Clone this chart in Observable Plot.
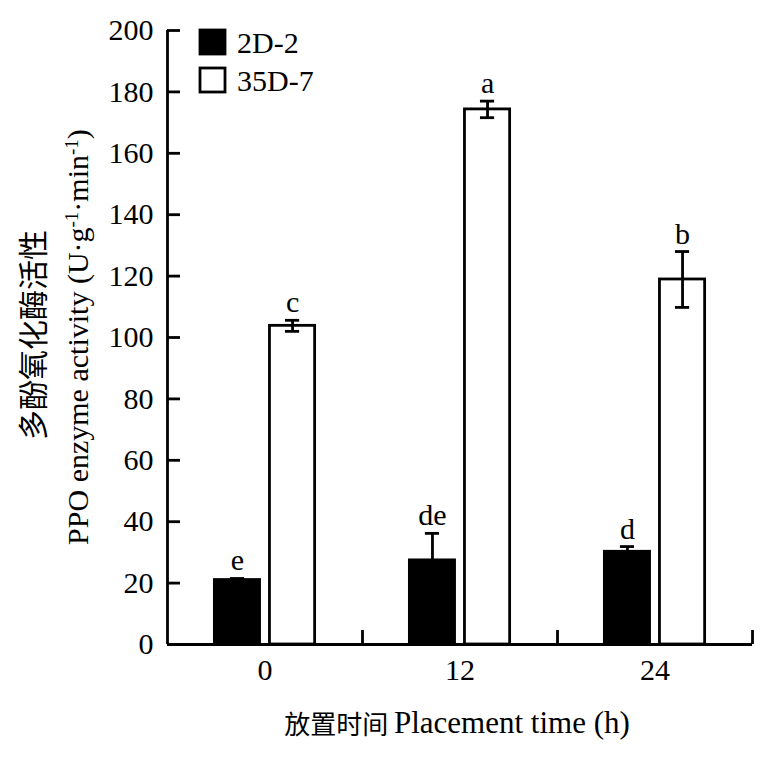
<!DOCTYPE html>
<html><head><meta charset="utf-8">
<script src="https://cdn.jsdelivr.net/npm/d3@7"></script>
<script src="https://cdn.jsdelivr.net/npm/@observablehq/plot@0.6"></script>
<style>body{margin:0;background:#fff} svg{font-family:"Liberation Serif","Times New Roman",serif}</style>
</head><body><div id="chart"></div>
<script>
// ---- data ----
const times = ["0", "12", "24"];
const series = ["2D-2", "35D-7"];
const mean2D2 = [21.0, 27.4, 30.2];
const err2D2 = [0.5, 8.8, 1.7];
const sig2D2 = ["e", "de", "d"];
const mean35D7 = [103.8, 174.3, 118.9];
const err35D7 = [1.8, 2.7, 9.1];
const sig35D7 = ["c", "a", "b"];
const yTicks = [0, 20, 40, 60, 80, 100, 120, 140, 160, 180, 200];

// ---- table ----
const inner = d3.scaleBand().domain(series).range([0, 1]).paddingInner(0.18).paddingOuter(0.86);
const rows = [];
times.forEach((t, i) => {
  [[mean2D2, err2D2, sig2D2], [mean35D7, err35D7, sig35D7]].forEach(([m, e, s], k) => {
    const x1 = i + inner(series[k]);
    const x2 = x1 + inner.bandwidth();
    rows.push({time: t, series: series[k], x1, x2, xc: (x1 + x2) / 2,
      value: m[i], lo: m[i] - e[i], hi: m[i] + e[i], sig: s[i]});
  });
});

const SW = 2.8;
const chart = Plot.plot({
  width: 769, height: 761,
  marginTop: 30, marginBottom: 117, marginLeft: 167, marginRight: 17,
  style: {fontSize: "30px", fontFamily: "'Liberation Serif','Times New Roman',serif", color: "black", background: "white"},
  x: {domain: [0, times.length]},
  y: {domain: [0, 200]},
  color: {domain: series, range: ["black", "white"]},
  marks: [
    Plot.rect(rows, {x1: "x1", x2: "x2", y1: 0, y2: "value", fill: "series", stroke: "black", strokeWidth: SW}),
    Plot.ruleX(rows, {x: "xc", y1: "lo", y2: "hi", strokeWidth: SW}),
    Plot.ruleY(rows, {y: "hi", x1: "x1", x2: "x2", insetLeft: 15.5, insetRight: 15.5, strokeWidth: SW}),
    Plot.ruleY(rows, {y: "lo", x1: "x1", x2: "x2", insetLeft: 15.5, insetRight: 15.5, strokeWidth: SW}),
    Plot.text(rows, {x: "xc", y: "hi", text: "sig", dy: -8, lineAnchor: "bottom", fontSize: 30}),
    Plot.axisY({ticks: yTicks, tickSize: -13, tickPadding: 27, strokeWidth: SW, label: null, fontSize: 30}),
    Plot.axisX({ticks: times.map((t, i) => i + 1), tickSize: -14, tickFormat: () => "", strokeWidth: SW, label: null}),
    Plot.axisX({ticks: times.map((t, i) => i + 0.5), tickSize: 0, tickPadding: 14, tickFormat: v => times[Math.floor(v)], label: null, fontSize: 30}),
    Plot.ruleX([0], {strokeWidth: SW}),
    Plot.ruleY([0], {strokeWidth: SW})
  ]
});
document.getElementById("chart").appendChild(chart);

// ---- titles and legend ----
const svg = d3.select(chart);
const cjk = "'Noto Sans CJK SC','Noto Sans CJK JP',sans-serif";
const serif = "'Liberation Serif','Times New Roman',serif";

svg.append("text")
  .attr("transform", "translate(31,335) rotate(-90)")
  .attr("text-anchor", "middle").attr("dominant-baseline", "central")
  .style("font-family", cjk).style("font-size", "30px").text("多酚氧化酶活性");

const yt = svg.append("text")
  .attr("transform", "translate(88,337) rotate(-90)")
  .attr("text-anchor", "middle")
  .style("font-family", serif).style("font-size", "30px");
yt.append("tspan").text("PPO enzyme activity (U·g");
yt.append("tspan").attr("baseline-shift", "super").style("font-size", "19px").text("-1");
yt.append("tspan").text("·min");
yt.append("tspan").attr("baseline-shift", "super").style("font-size", "19px").text("-1");
yt.append("tspan").text(")");

const xt = svg.append("text")
  .attr("x", 457).attr("y", 722)
  .attr("text-anchor", "middle").attr("dominant-baseline", "central");
xt.append("tspan").style("font-family", cjk).style("font-size", "26px").text("放置时间 ");
xt.append("tspan").style("font-family", serif).style("font-size", "31px").text("Placement time (h)");

const legendColors = ["black", "white"];
series.forEach((s, k) => {
  svg.append("rect").attr("x", 200).attr("y", 30 + k * 38).attr("width", 25).attr("height", 24)
    .attr("fill", legendColors[k]).attr("stroke", "black").attr("stroke-width", SW);
  svg.append("text").attr("x", 237).attr("y", 42 + k * 38)
    .attr("text-anchor", "start").attr("dominant-baseline", "central")
    .style("font-family", serif).style("font-size", "30px").text(s);
});
</script>
</body></html>
